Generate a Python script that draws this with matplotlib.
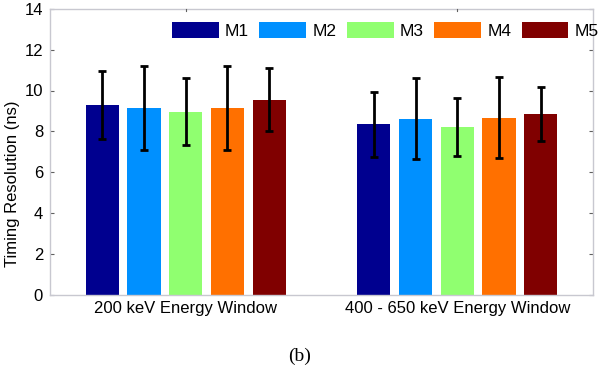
import numpy as np
import matplotlib
matplotlib.use("Agg")
import matplotlib.pyplot as plt

# data
windows = ["200 keV Energy Window", "400 - 650 keV Energy Window"]
methods = ["M1", "M2", "M3", "M4", "M5"]
means = {
    "M1": [9.30, 8.35],
    "M2": [9.14, 8.62],
    "M3": [8.96, 8.22],
    "M4": [9.14, 8.67],
    "M5": [9.55, 8.85],
}
errs = {
    "M1": [1.67, 1.60],
    "M2": [2.07, 1.98],
    "M3": [1.64, 1.42],
    "M4": [2.04, 1.97],
    "M5": [1.54, 1.33],
}
colors = ["#00008F", "#0090FF", "#90FF70", "#FF7000", "#800000"]

plt.rcParams['font.family'] = ['Liberation Sans', 'DejaVu Sans']

fig = plt.figure(figsize=(6.0, 3.66), dpi=100)
ax = fig.add_axes([50/600, 1 - 295/366, 543/600, (295 - 8.7)/366])

group_x = np.array([1.0, 2.0])
step = 0.1537
width = 0.1226
for i, m in enumerate(methods):
    xs = group_x + (i - 2) * step
    ax.bar(xs, means[m], width, color=colors[i], label=m, zorder=2)
    ax.errorbar(xs, means[m], yerr=errs[m], fmt='none', ecolor='black',
                elinewidth=2, capsize=3, capthick=2, zorder=3)

ax.set_xlim(0.5, 2.5)
ax.set_ylim(0, 14)
ax.set_yticks(np.arange(0, 15, 2))
ax.tick_params(axis='y', which='both', direction='in', length=3, width=0.8,
               color='#606060', labelsize=12, right=True, pad=5)

ax.set_xticks(group_x)
ax.set_xticklabels(windows, fontsize=12)
ax.tick_params(axis='x', direction='in', length=0, top=False, pad=4)
for xt in group_x:
    ax.plot([xt, xt], [14, 13.88], color='#606060', lw=0.8, clip_on=False, zorder=4)

for s in ax.spines.values():
    s.set_color('#c8c8d0')
    s.set_linewidth(1.0)

ax.set_ylabel("Timing Resolution (ns)", fontsize=12)
ax.yaxis.set_label_coords(-0.055, 0.39)

leg = ax.legend(ncol=5, frameon=False, loc='center left',
                bbox_to_anchor=((172 - 50) / 543, (295 - 30.5) / 286.3),
                borderpad=0, borderaxespad=0, fontsize=12.5,
                handlelength=2.7, handleheight=1.0, handletextpad=0.35,
                columnspacing=0.6)

fig.text(0.5, 1 - 356/366, "(b)", ha='center', va='center',
         fontsize=14, family='Liberation Serif')

fig.savefig("out.png", dpi=100)
